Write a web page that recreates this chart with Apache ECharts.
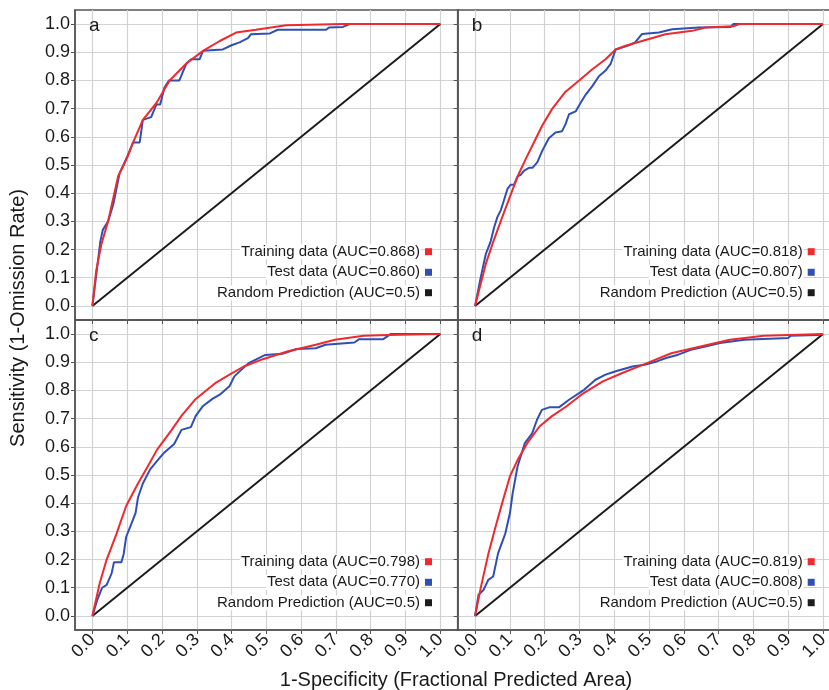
<!DOCTYPE html>
<html>
<head>
<meta charset="utf-8">
<script src="https://cdn.jsdelivr.net/npm/echarts@6/dist/echarts.min.js"></script>
<style>
html,body{margin:0;padding:0;background:#fff}
#main{width:829px;height:690px}
</style>
</head>
<body>
<div id="main"></div>
<script>
// tick positions shared by every axis
var tickValues = [0, 0.1, 0.2, 0.3, 0.4, 0.5, 0.6, 0.7, 0.8, 0.9, 1.0];
var panelNames = ['a', 'b', 'c', 'd'];
var trainAUC = ['0.868', '0.818', '0.798', '0.819'];
var testAUC = ['0.860', '0.807', '0.770', '0.808'];
var randomAUC = '0.5';
var randomLine = [[0, 0], [1, 1]];

// ROC curves, [1-specificity, sensitivity]
var trainA = [[0,0],[0.011,0.125],[0.026,0.22],[0.045,0.30],[0.074,0.46],[0.098,0.52],[0.117,0.58],[0.145,0.66],[0.184,0.72],[0.222,0.80],[0.27,0.86],[0.318,0.905],[0.366,0.94],[0.413,0.97],[0.47,0.98],[0.557,0.996],[0.72,1.0],[1,1]];
var testA = [[0,0],[0.023,0.23],[0.03,0.27],[0.045,0.30],[0.06,0.36],[0.078,0.47],[0.102,0.535],[0.117,0.58],[0.136,0.58],[0.145,0.66],[0.169,0.67],[0.184,0.715],[0.195,0.715],[0.207,0.775],[0.22,0.80],[0.25,0.80],[0.27,0.86],[0.284,0.875],[0.308,0.875],[0.318,0.905],[0.375,0.91],[0.40,0.925],[0.423,0.935],[0.447,0.95],[0.456,0.964],[0.51,0.967],[0.533,0.98],[0.672,0.98],[0.68,0.988],[0.72,0.99],[0.74,1.0],[1,1]];

var trainB = [[0,0],[0.011,0.054],[0.031,0.15],[0.05,0.22],[0.078,0.315],[0.107,0.41],[0.126,0.47],[0.145,0.52],[0.169,0.58],[0.193,0.64],[0.222,0.70],[0.26,0.76],[0.299,0.80],[0.337,0.84],[0.375,0.875],[0.404,0.91],[0.433,0.923],[0.48,0.94],[0.547,0.964],[0.624,0.976],[0.662,0.988],[0.742,0.992],[0.76,1.0],[1,1]];
var testB = [[0,0],[0.016,0.10],[0.031,0.185],[0.045,0.23],[0.055,0.28],[0.064,0.315],[0.074,0.34],[0.083,0.375],[0.093,0.415],[0.102,0.43],[0.112,0.43],[0.122,0.46],[0.131,0.465],[0.141,0.48],[0.155,0.49],[0.165,0.49],[0.179,0.51],[0.193,0.55],[0.212,0.595],[0.231,0.615],[0.25,0.62],[0.26,0.645],[0.27,0.68],[0.289,0.69],[0.303,0.72],[0.318,0.75],[0.337,0.78],[0.356,0.815],[0.375,0.835],[0.39,0.86],[0.404,0.91],[0.442,0.925],[0.46,0.935],[0.48,0.965],[0.528,0.97],[0.567,0.982],[0.643,0.988],[0.735,0.99],[0.742,1.0],[1,1]];

var trainC = [[0,0],[0.021,0.116],[0.041,0.20],[0.069,0.29],[0.097,0.39],[0.131,0.47],[0.159,0.53],[0.186,0.59],[0.228,0.66],[0.256,0.71],[0.297,0.77],[0.352,0.825],[0.394,0.856],[0.435,0.885],[0.49,0.911],[0.56,0.938],[0.642,0.962],[0.697,0.98],[0.78,0.994],[0.85,0.997],[1,1]];
var testC = [[0,0],[0.014,0.057],[0.028,0.10],[0.041,0.11],[0.055,0.15],[0.062,0.19],[0.083,0.19],[0.09,0.22],[0.097,0.28],[0.11,0.32],[0.124,0.365],[0.131,0.42],[0.145,0.47],[0.166,0.52],[0.186,0.55],[0.207,0.58],[0.235,0.61],[0.256,0.66],[0.283,0.67],[0.297,0.71],[0.318,0.745],[0.345,0.77],[0.366,0.785],[0.394,0.815],[0.408,0.85],[0.428,0.873],[0.449,0.897],[0.497,0.926],[0.546,0.93],[0.587,0.947],[0.642,0.95],[0.67,0.962],[0.753,0.97],[0.767,0.982],[0.836,0.982],[0.857,1.0],[1,1]];

var trainD = [[0,0],[0.017,0.104],[0.038,0.22],[0.059,0.317],[0.08,0.41],[0.1,0.495],[0.122,0.553],[0.15,0.613],[0.185,0.672],[0.22,0.708],[0.262,0.743],[0.311,0.79],[0.367,0.832],[0.423,0.862],[0.494,0.897],[0.564,0.932],[0.648,0.956],[0.732,0.98],[0.83,0.994],[1,1]];
var testD = [[0,0],[0.01,0.075],[0.024,0.092],[0.038,0.128],[0.052,0.14],[0.066,0.222],[0.087,0.293],[0.1,0.364],[0.108,0.435],[0.122,0.53],[0.143,0.613],[0.164,0.648],[0.178,0.696],[0.192,0.731],[0.213,0.74],[0.241,0.74],[0.27,0.767],[0.311,0.80],[0.346,0.838],[0.375,0.856],[0.402,0.867],[0.452,0.885],[0.487,0.891],[0.522,0.903],[0.549,0.915],[0.584,0.927],[0.62,0.944],[0.662,0.956],[0.704,0.968],[0.774,0.98],[0.9,0.986],[0.907,0.994],[0.985,0.997],[1,1]];

var trainSets = [trainA, trainB, trainC, trainD];
var testSets = [testA, testB, testC, testD];

var font = '"Liberation Sans", Arial, sans-serif';
var red = '#ee2a2e', blue = '#2f4fb5', black = '#1c1c1c', frame = '#555';
var lefts = [75, 457.7], tops = [10, 320], W = 382.7, H = 310;

var myChart = echarts.init(document.getElementById('main'));
var grids = [], xAxes = [], yAxes = [], series = [], graphics = [];

for (var i = 0; i < 4; i++) {
    var col = i % 2, row = Math.floor(i / 2);
    var gl = lefts[col], gt = tops[row];
    grids.push({
        left: gl, top: gt, width: W, height: H,
        show: true, borderColor: frame, borderWidth: 1.5,
        containLabel: false, outerBoundsMode: 'none'
    });
    xAxes.push({
        type: 'value', gridIndex: i, min: -0.05, max: 1.05, position: 'bottom',
        axisLine: {show: true, onZero: false, lineStyle: {color: frame, width: 1.5}},
        axisTick: {show: true, length: 4, customValues: tickValues, lineStyle: {color: frame}},
        axisLabel: {
            show: row === 1, customValues: tickValues, rotate: 45, margin: 7,
            fontSize: 18, color: '#1a1a1a', fontFamily: font,
            formatter: function (v) { return v.toFixed(1); }
        },
        splitLine: {show: true, lineStyle: {color: '#d2d2d2', width: 1.2}}
    });
    yAxes.push({
        type: 'value', gridIndex: i, min: -0.05, max: 1.05,
        axisLine: {show: true, onZero: false, lineStyle: {color: frame, width: 1.5}},
        axisTick: {show: true, length: 4, customValues: tickValues, lineStyle: {color: frame}},
        axisLabel: {
            show: col === 0, customValues: tickValues, margin: 5,
            fontSize: 18, color: '#1a1a1a', fontFamily: font,
            formatter: function (v) { return v.toFixed(1); }
        },
        splitLine: {show: true, lineStyle: {color: '#d2d2d2', width: 1.2}}
    });
    series.push(
        {type: 'line', xAxisIndex: i, yAxisIndex: i, data: randomLine, showSymbol: false,
         lineStyle: {color: black, width: 2}},
        {type: 'line', xAxisIndex: i, yAxisIndex: i, data: testSets[i], showSymbol: false,
         lineStyle: {color: blue, width: 2}},
        {type: 'line', xAxisIndex: i, yAxisIndex: i, data: trainSets[i], showSymbol: false,
         lineStyle: {color: red, width: 2}}
    );

    // panel letter
    graphics.push({type: 'text', x: gl + 14, y: gt + 15.7, z: 100,
        style: {text: panelNames[i], font: '19px ' + font, fill: '#1a1a1a', textVerticalAlign: 'middle'}});
    // legend rows, text right aligned with a small square after it
    var rows = [
        ['Training data (AUC=' + trainAUC[i] + ')', red],
        ['Test data (AUC=' + testAUC[i] + ')', blue],
        ['Random Prediction (AUC=' + randomAUC + ')', black]
    ];
    var rowY = [241.7, 262.3, 282.7];
    for (var r = 0; r < 3; r++) {
        graphics.push({type: 'text', x: gl + 346, y: gt + rowY[r], z: 100,
            style: {text: rows[r][0], font: '15px ' + font, fill: '#1a1a1a',
                    textAlign: 'right', textVerticalAlign: 'middle',
                    backgroundColor: '#fff', padding: [0, 1, 0, 1]}});
        graphics.push({type: 'rect', z: 100,
            shape: {x: gl + 350, y: gt + rowY[r] - 3.5, width: 7, height: 7},
            style: {fill: rows[r][1]}});
    }
}

graphics.push({type: 'text', x: 456, y: 680,
    style: {text: '1-Specificity (Fractional Predicted Area)', font: '20px ' + font, fill: '#1a1a1a',
            textAlign: 'center', textVerticalAlign: 'middle'}});
graphics.push({type: 'text', x: 18, y: 318, rotation: Math.PI / 2,
    style: {text: 'Sensitivity (1-Omission Rate)', font: '20px ' + font, fill: '#1a1a1a',
            textAlign: 'center', textVerticalAlign: 'middle'}});

var option = {
    animation: false,
    backgroundColor: '#fff',
    grid: grids,
    xAxis: xAxes,
    yAxis: yAxes,
    series: series,
    graphic: graphics
};
myChart.setOption(option);
</script>
</body>
</html>
